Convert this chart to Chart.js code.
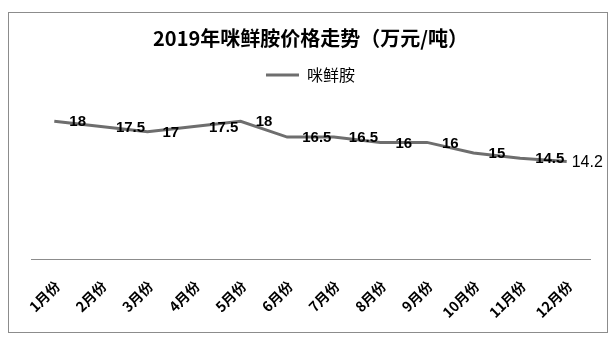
<!DOCTYPE html>
<html>
<head>
<meta charset="utf-8">
<script src="https://cdn.jsdelivr.net/npm/chart.js@4"></script>
<style>
  html, body { margin: 0; padding: 0; background: #fff; }
  #wrap { width: 613px; height: 340px; position: relative; }
</style>
</head>
<body>
<div id="wrap"><canvas id="myChart"></canvas></div>
<script>
const months = ["1月份", "2月份", "3月份", "4月份", "5月份", "6月份", "7月份", "8月份", "9月份", "10月份", "11月份", "12月份"];
const prices = [18, 17.5, 17, 17.5, 18, 16.5, 16.5, 16, 16, 15, 14.5, 14.2];
const seriesName = "咪鲜胺";
const chartTitle = "2019年咪鲜胺价格走势（万元/吨）";

const fontCN = "'Noto Sans CJK SC', 'Liberation Sans', sans-serif";

// frame around the whole chart, like the Word/Excel chart border
const framePlugin = {
  id: "frame",
  afterDraw(chart) {
    const c = chart.ctx;
    c.save();
    c.strokeStyle = "#8c8c8c";
    c.lineWidth = 1;
    c.strokeRect(8.5, 12.5, 599, 320);
    c.restore();
  },
};

// value labels to the right of each point
const valueLabels = {
  id: "valueLabels",
  afterDatasetsDraw(chart) {
    const c = chart.ctx;
    const meta = chart.getDatasetMeta(0);
    c.save();
    c.fillStyle = "#000";
    c.textAlign = "left";
    c.textBaseline = "middle";
    meta.data.forEach((pt, i) => {
      const last = i === meta.data.length - 1;
      c.font = last ? "16px 'Liberation Sans', sans-serif" : "bold 15px 'Liberation Sans', sans-serif";
      c.fillText(String(prices[i]), pt.x + (last ? 5 : 15), pt.y + 1);
    });
    c.restore();
  },
};

Chart.defaults.font.family = fontCN;
Chart.defaults.color = "#000";

new Chart(document.getElementById("myChart"), {
  type: "line",
  data: {
    labels: months,
    datasets: [
      {
        label: seriesName,
        data: prices,
        borderColor: "#6e6e6e",
        backgroundColor: "#6e6e6e",
        borderWidth: 3,
        pointRadius: 0,
        tension: 0,
      },
    ],
  },
  options: {
    responsive: true,
    maintainAspectRatio: false,
    animation: false,
    layout: {
      padding: { left: 31, right: 23, top: 14, bottom: 9 },
    },
    plugins: {
      title: {
        display: true,
        text: chartTitle,
        font: { size: 20, weight: "bold", family: fontCN },
        color: "#000",
        padding: { top: 12, bottom: 7 },
      },
      legend: {
        display: true,
        position: "top",
        labels: {
          usePointStyle: true,
          pointStyle: "line",
          pointStyleWidth: 33,
          font: { size: 16, family: fontCN },
          color: "#000",
          padding: 10,
        },
      },
      tooltip: { enabled: false },
    },
    scales: {
      x: {
        offset: true,
        grid: { display: false },
        border: { display: true, color: "#8c8c8c", width: 1 },
        ticks: {
          minRotation: 45,
          maxRotation: 45,
          autoSkip: false,
          labelOffset: 3,
          padding: 10,
          font: { size: 14, weight: "bold", family: fontCN },
          color: "#000",
        },
      },
      y: {
        display: false,
        min: 4.91,
        max: 20.67,
      },
    },
  },
  plugins: [framePlugin, valueLabels],
});
</script>
</body>
</html>
